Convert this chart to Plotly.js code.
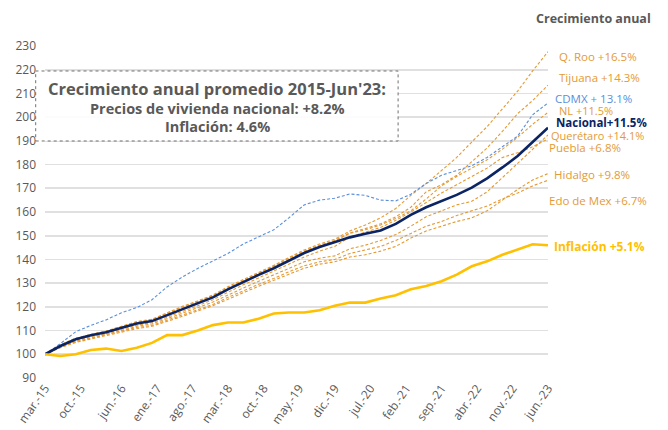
<!DOCTYPE html>
<html>
<head>
<meta charset="utf-8">
<script src="https://cdn.plot.ly/plotly-3.0.1.min.js"></script>
<style>html,body{margin:0;padding:0;background:#fff}#chart{width:668px;height:430px}</style>
</head>
<body>
<div id="chart"></div>
<script>
// Quarterly dates (Mar-2015 .. Jun-2023)
const quarters = ["2015-03-01","2015-06-01","2015-09-01","2015-12-01","2016-03-01","2016-06-01","2016-09-01","2016-12-01",
"2017-03-01","2017-06-01","2017-09-01","2017-12-01","2018-03-01","2018-06-01","2018-09-01","2018-12-01",
"2019-03-01","2019-06-01","2019-09-01","2019-12-01","2020-03-01","2020-06-01","2020-09-01","2020-12-01",
"2021-03-01","2021-06-01","2021-09-01","2021-12-01","2022-03-01","2022-06-01","2022-09-01","2022-12-01",
"2023-03-01","2023-06-01"];

const tickDates = ["2015-03-01","2015-10-01","2016-06-01","2017-01-01","2017-08-01","2018-03-01","2018-10-01","2019-05-01",
"2019-12-01","2020-07-01","2021-02-01","2021-09-01","2022-04-01","2022-11-01","2023-06-01"];
const tickLabels = ["mar.-15","oct.-15","jun.-16","ene.-17","ago.-17","mar.-18","oct.-18","may.-19",
"dic.-19","jul.-20","feb.-21","sep.-21","abr.-22","nov.-22","jun.-23"];

const qroo = [100,104,106.8,108.3,109.8,111.8,113.8,114.8,117.5,120.2,122.5,125,128.5,131.5,134.5,137.5,140.8,144,146.5,148.5,152,154.5,157.5,161.5,167,172,177.5,183,189.5,196,203.5,211,219.5,227.6];
const tijuana = [100,103.6,106.5,108.2,109.5,111.5,113.5,114.5,117.2,119.8,122.3,124.8,128,131.2,134.2,137.2,140.5,143.5,146,148,151.2,153,155,158,162,168.5,171.5,175.5,181,187,194,201.5,207,213.5];
const nl = [100,103.8,106.6,108.4,109.7,111.6,113.6,114.6,117,119.5,122,124.6,127.8,131,134,137,140.2,143.2,145.8,147.8,151,152.5,154.5,157.3,160.5,165.5,171,175,178.5,182,186.5,191.5,197,202];
const queretaro = [100,103,105.5,107,108.3,110,111.8,112.8,115,117.3,119.7,122,125,128,130.8,133.5,136.3,139,140.5,141.5,144.5,146,148,150.5,154,158,160.5,163,164.5,168.5,174.5,180.5,186.5,192.5];
const puebla = [100,103.2,105.8,107.5,108.8,110.6,112.3,113.3,115.6,118,120.5,123,126.2,129.3,132.2,135,138,141,143.5,145.5,149.5,151.5,153.5,156.5,160,164,168,171.5,175,178.5,183,185,187.5,190.8];
const hidalgo = [100,102.8,105,106.5,107.7,109.3,110.8,111.8,113.8,116,118.3,120.5,123.2,126,128.7,131.2,133.8,136.3,138,139,141,142,143.5,145.5,149,152,154,156,157.5,160.5,165,169.5,173.5,176.2];
const edomex = [100,103,105.3,106.8,108,109.7,111.3,112.2,114.3,116.6,118.8,121,124,126.8,129.5,132,134.8,137.3,139,140,142.5,144,145.5,148,151,154,156,158.5,160.5,162.5,165.5,168,171,173.4];
const cdmx = [100,104.5,109.5,112.2,114.5,117.5,119.7,123,128.4,132.6,136.2,139.5,142.5,146.5,149.5,152.5,157.5,163,165,165.8,167.6,167,165,164.7,167.5,172,175.5,177.5,179.5,183,187.5,192,201,206];
const nacional = [100,103.5,106.3,108,109.3,111.2,113,114,116.5,119,121.5,124,127.4,130.5,133.5,136.3,139.5,142.7,145.2,147.3,149.3,150.8,152.2,155,158.8,162,164.5,167.2,170.3,174.2,178.8,183.6,189.5,195.5];
const inflacion = [100,99.3,100,101.8,102.4,101.4,102.8,104.8,108.1,108.1,110,112.3,113.4,113.4,115,117.2,117.6,117.6,118.6,120.5,121.8,121.8,123.5,124.9,127.4,128.8,130.8,133.6,137.1,139.2,142,144.2,146.4,146];

const seriesNames = ["Q. Roo","Tijuana","NL","Querétaro","Puebla","Hidalgo","Edo de Mex"];
const seriesValues = [qroo,tijuana,nl,queretaro,puebla,hidalgo,edomex];

const labelTexts = ["Q. Roo +16.5%","Tijuana +14.3%","CDMX + 13.1%","NL +11.5%","Nacional+11.5%","Querétaro +14.1%","Puebla +6.8%","Hidalgo +9.8%","Edo de Mex +6.7%","Inflación +5.1%"];

const ORANGE = "#E49A35";
const BLUE = "#5B8FDA";
const NAVY = "#0B2463";
const GOLD = "#FFC000";
const GRAY = "#595959";
const FONT = "Open Sans, Lato, DejaVu Sans, sans-serif";

const traces = [];
seriesValues.forEach((vals, k) => {
  traces.push({x: quarters, y: vals, name: seriesNames[k], type: "scatter", mode: "lines",
    line: {color: ORANGE, width: 1.1, dash: "3px,2px"}, hoverinfo: "skip"});
});
traces.push({x: quarters, y: cdmx, name: "CDMX", type: "scatter", mode: "lines",
  line: {color: BLUE, width: 1.1, dash: "3px,2px"}});
traces.push({x: quarters, y: nacional, name: "Nacional", type: "scatter", mode: "lines",
  line: {color: NAVY, width: 2.6}});
traces.push({x: quarters, y: inflacion, name: "Inflación", type: "scatter", mode: "lines",
  line: {color: GOLD, width: 2.6}});

// label placement (value positions and pixel offsets from plot right edge)
const labelY = [225.7, 216.9, 208, 202.6, 197.7, 192.4, 187.1, 175.9, 164.8, 145.6];
const labelShift = [10, 10, 6, 10, 7, 2, 0, 5, 0, 5];
const labelSize = [11.5, 11.5, 11.5, 11, 11.5, 11, 11.5, 11.5, 11.5, 12];
const labelColor = [ORANGE, ORANGE, BLUE, ORANGE, NAVY, ORANGE, ORANGE, ORANGE, ORANGE, GOLD];
const labelBold = [false,false,false,false,true,false,false,false,false,true];

const annotations = labelTexts.map((t, i) => ({
  xref: "paper", yref: "y", x: 1, y: labelY[i], xanchor: "left", yanchor: "middle",
  xshift: labelShift[i], showarrow: false, borderpad: 0,
  text: labelBold[i] ? "<b>" + t + "</b>" : t,
  font: {family: FONT, size: labelSize[i], color: labelColor[i]}
}));
annotations.push({xref: "paper", yref: "paper", x: 1, y: 1, xanchor: "left", yanchor: "middle",
  xshift: -14, yshift: 28, showarrow: false, text: "<b>Crecimiento anual</b>",
  font: {family: FONT, size: 12.5, color: GRAY}});
annotations.push({xref: "paper", yref: "paper", x: 0.342, y: 0.8726, xanchor: "center", yanchor: "middle",
  showarrow: false, borderpad: 0, text: "<b>Crecimiento anual promedio 2015-Jun'23:</b>",
  font: {family: FONT, size: 16.5, color: GRAY}});
annotations.push({xref: "paper", yref: "paper", x: 0.342, y: 0.8154, xanchor: "center", yanchor: "middle",
  showarrow: false, borderpad: 0, yshift: -1, text: "<b>Precios de vivienda nacional: +8.2%</b>",
  font: {family: FONT, size: 14.5, color: GRAY}});
annotations.push({xref: "paper", yref: "paper", x: 0.342, y: 0.759, xanchor: "center", yanchor: "middle",
  showarrow: false, borderpad: 0, text: "<b>Inflación: 4.6%</b>",
  font: {family: FONT, size: 14.5, color: GRAY}});

const layout = {
  width: 668, height: 430,
  margin: {l: 45, r: 120, t: 46, b: 52},
  paper_bgcolor: "#ffffff", plot_bgcolor: "#ffffff",
  showlegend: false,
  font: {family: FONT, color: GRAY},
  xaxis: {
    type: "date", range: [quarters[0], quarters[quarters.length - 1]],
    tickmode: "array", tickvals: tickDates, ticktext: tickLabels, tickangle: -55,
    showgrid: false, zeroline: false, showline: false, ticks: "",
    tickfont: {family: FONT, size: 12, color: GRAY}
  },
  yaxis: {
    range: [90, 230], dtick: 10, tick0: 90, showgrid: true, gridcolor: "#E0E0E0", gridwidth: 1.6,
    zeroline: false, showline: false, ticks: "", ticklabelstandoff: 8,
    tickfont: {family: FONT, size: 12, color: GRAY}
  },
  shapes: [{
    type: "rect", xref: "paper", yref: "paper", x0: -0.0185, x1: 0.702, y0: 0.7139, y1: 0.9247,
    line: {color: "#707070", width: 1, dash: "dot"}, fillcolor: "rgba(255,255,255,0.9)", layer: "above"
  }],
  annotations: annotations
};

Plotly.newPlot("chart", traces, layout, {displayModeBar: false, staticPlot: true});
</script>
</body>
</html>
